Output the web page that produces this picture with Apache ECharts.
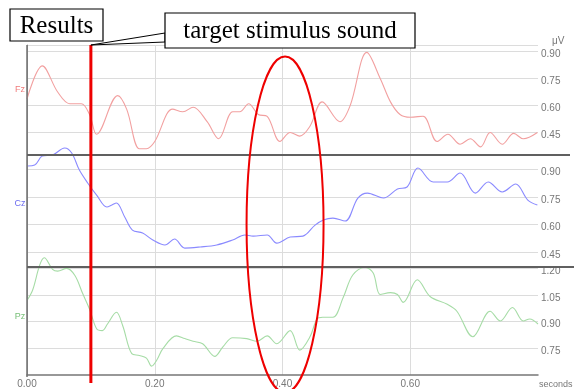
<!DOCTYPE html>
<html>
<head>
<meta charset="utf-8">
<script src="https://cdn.jsdelivr.net/npm/echarts@6/dist/echarts.min.js"></script>
<style>html,body{margin:0;padding:0;background:#fff}#c{width:574px;height:389px}</style>
</head>
<body>
<div id="c"></div>
<script>
// ---- data (time in seconds, amplitude in µV) ----
const channels = ['Fz', 'Cz', 'Pz'];
const fzData = [[0.000,0.636],[0.024,0.82],[0.048,0.675],[0.067,0.61],[0.085,0.61],[0.098,0.55],[0.109,0.44],[0.142,0.655],[0.156,0.58],[0.176,0.36],[0.187,0.36],[0.200,0.40],[0.228,0.58],[0.244,0.565],[0.260,0.59],[0.282,0.51],[0.300,0.415],[0.322,0.565],[0.333,0.565],[0.347,0.61],[0.362,0.55],[0.376,0.54],[0.396,0.40],[0.412,0.45],[0.427,0.43],[0.443,0.485],[0.462,0.62],[0.490,0.51],[0.506,0.60],[0.532,0.895],[0.553,0.75],[0.569,0.62],[0.584,0.55],[0.600,0.535],[0.620,0.54],[0.642,0.40],[0.659,0.44],[0.678,0.385],[0.694,0.415],[0.710,0.37],[0.725,0.45],[0.744,0.385],[0.762,0.445],[0.777,0.415],[0.799,0.45]];
const czData = [[0.001,0.919],[0.012,0.924],[0.024,0.973],[0.040,0.979],[0.059,1.017],[0.070,0.99],[0.082,0.897],[0.095,0.827],[0.109,0.761],[0.125,0.696],[0.133,0.707],[0.140,0.718],[0.153,0.642],[0.165,0.571],[0.181,0.555],[0.197,0.517],[0.216,0.49],[0.231,0.522],[0.247,0.473],[0.271,0.479],[0.297,0.49],[0.322,0.517],[0.341,0.544],[0.354,0.538],[0.376,0.544],[0.391,0.50],[0.412,0.533],[0.432,0.538],[0.451,0.598],[0.464,0.626],[0.479,0.636],[0.498,0.62],[0.518,0.745],[0.533,0.772],[0.558,0.745],[0.580,0.794],[0.595,0.805],[0.612,0.908],[0.636,0.832],[0.658,0.832],[0.678,0.881],[0.702,0.772],[0.722,0.832],[0.744,0.778],[0.765,0.821],[0.784,0.734],[0.799,0.707]];
const pzData = [[0.001,1.025],[0.009,1.08],[0.020,1.22],[0.027,1.26],[0.040,1.195],[0.048,1.185],[0.062,1.20],[0.075,1.16],[0.087,1.06],[0.098,0.97],[0.109,0.86],[0.118,0.85],[0.126,0.887],[0.140,0.953],[0.150,0.876],[0.164,0.72],[0.176,0.71],[0.187,0.695],[0.195,0.65],[0.203,0.683],[0.213,0.75],[0.234,0.82],[0.247,0.805],[0.260,0.79],[0.275,0.776],[0.294,0.705],[0.307,0.76],[0.322,0.81],[0.344,0.805],[0.360,0.79],[0.376,0.82],[0.391,0.776],[0.412,0.85],[0.427,0.74],[0.443,0.815],[0.454,0.915],[0.463,0.925],[0.479,0.925],[0.495,1.036],[0.510,1.163],[0.529,1.207],[0.542,1.174],[0.553,1.053],[0.569,1.064],[0.580,1.053],[0.589,1.009],[0.611,1.136],[0.631,1.042],[0.658,0.998],[0.673,0.959],[0.698,0.815],[0.725,0.959],[0.741,0.904],[0.760,0.98],[0.777,0.904],[0.787,0.915],[0.800,0.887]];
const fzTicks = ['0.90','0.75','0.60','0.45'];
const czTicks = ['0.90','0.75','0.60','0.45'];
const pzTicks = ['1.20','1.05','0.90','0.75'];
const xTicks = ['0.00','0.20','0.40','0.60'];
const stimulusTime = 0.1;     // red marker line
const highlightTime = 0.404;  // centre of the red ellipse

const chart = echarts.init(document.getElementById('c'), null, {renderer: 'canvas'});
const lblFont = {fontFamily: 'Liberation Sans, Arial, sans-serif', fontSize: 10, color: '#777'};
const gridLine = {show: true, lineStyle: {color: '#dcdcdc', width: 1}};

function yAx(idx, min, max, ticks) {
  return {
    type: 'value', gridIndex: idx, position: 'right', min: min, max: max, interval: 0.15,
    axisLine: {show: true, lineStyle: {color: '#a0a0a0', width: 1}},
    axisTick: {show: false},
    splitLine: Object.assign({showMinLine: false, showMaxLine: idx === 0}, gridLine),
    axisLabel: Object.assign({margin: 3, verticalAlign: 'top', lineHeight: 6,
      formatter: v => { const s = (+v).toFixed(2); return ticks.includes(s) ? s : ''; }}, lblFont)
  };
}
function xAx(idx, showLabels) {
  return {
    type: 'value', gridIndex: idx, min: 0, max: 0.8, interval: 0.2,
    axisLine: {show: showLabels, onZero: false, lineStyle: {color: '#777', width: 1.5}},
    axisTick: {show: false},
    splitLine: Object.assign({showMinLine: false, showMaxLine: false}, gridLine),
    axisLabel: Object.assign({show: showLabels, margin: 4,
      formatter: v => { const s = (+v).toFixed(2); return xTicks.includes(s) ? s : ''; }}, lblFont)
  };
}
const colors = ['#f2a0a0', '#8a8aff', '#a6dca6'];
const datas = [fzData, czData, pzData];

const option = {
  animation: false,
  backgroundColor: '#fff',
  grid: [
    {left: 27, right: 36, top: 45, height: 114.5},
    {left: 27, right: 36, top: 155, height: 124.9},
    {left: 27, right: 36, top: 267, height: 110}
  ],
  xAxis: [xAx(0, false), xAx(1, false), xAx(2, true)],
  yAxis: [yAx(0, 0.30, 0.936, fzTicks), yAx(1, 0.30, 0.979, czTicks), yAx(2, 0.60, 1.208, pzTicks)],
  series: datas.map((d, i) => ({
    name: channels[i], type: 'line', xAxisIndex: i, yAxisIndex: i, data: d,
    smooth: 0.35, showSymbol: false, clip: false,
    lineStyle: {color: colors[i], width: 1.1}
  }))
};
chart.setOption(option);

const xLine = chart.convertToPixel({xAxisIndex: 2}, stimulusTime);
const xEll = chart.convertToPixel({xAxisIndex: 2}, highlightTime);
const serif = '"Liberation Serif", "Times New Roman", serif';
const chanColors = ['#f07c7c', '#6c6cf0', '#78c078'];
const chanY = [90, 204, 317];
const g = [
  {type: 'line', shape: {x1: 27, y1: 45, x2: 27, y2: 377}, style: {stroke: '#707070', lineWidth: 1.5}, z: 50},
  {type: 'line', shape: {x1: 27, y1: 155, x2: 570, y2: 155}, style: {stroke: '#606060', lineWidth: 2}, z: 50},
  {type: 'line', shape: {x1: 27, y1: 267, x2: 574, y2: 267}, style: {stroke: '#606060', lineWidth: 2}, z: 50},
  {type: 'text', style: {text: 'μV', x: 552, y: 41, fill: '#777', font: '10px Liberation Sans', textVerticalAlign: 'middle'}, z: 50},
  {type: 'text', style: {text: 'seconds', x: 539, y: 380, fill: '#777', font: '9px Liberation Sans', textVerticalAlign: 'top'}, z: 50},
  {type: 'line', shape: {x1: xLine, y1: 45, x2: xLine, y2: 383}, style: {stroke: '#ee0000', lineWidth: 3}, z: 60},
  {type: 'ellipse', shape: {cx: xEll, cy: 224.5, rx: 38.5, ry: 168}, style: {stroke: '#ee0000', lineWidth: 2, fill: null}, z: 60},
  {type: 'polygon', shape: {points: [[165, 33], [xLine, 45], [165, 42]]}, style: {stroke: '#000', fill: '#fff', lineWidth: 1}, z: 70},
  {type: 'rect', shape: {x: 10, y: 9, width: 93, height: 32}, style: {stroke: '#000', fill: '#fff', lineWidth: 1.2}, z: 71},
  {type: 'text', style: {text: 'Results', x: 56.5, y: 26, fill: '#000', font: '25px ' + serif, textAlign: 'center', textVerticalAlign: 'middle'}, z: 72},
  {type: 'rect', shape: {x: 165, y: 13, width: 250, height: 35}, style: {stroke: '#000', fill: '#fff', lineWidth: 1.2}, z: 71},
  {type: 'text', style: {text: 'target stimulus sound', x: 290, y: 31, fill: '#000', font: '25px ' + serif, textAlign: 'center', textVerticalAlign: 'middle'}, z: 72}
];
channels.forEach((c, i) => {
  g.push({type: 'text', style: {text: c, x: 20, y: chanY[i], fill: chanColors[i], font: '9px Liberation Sans', textAlign: 'center', textVerticalAlign: 'middle'}, z: 50});
});
chart.setOption({graphic: g});
</script>
</body>
</html>
